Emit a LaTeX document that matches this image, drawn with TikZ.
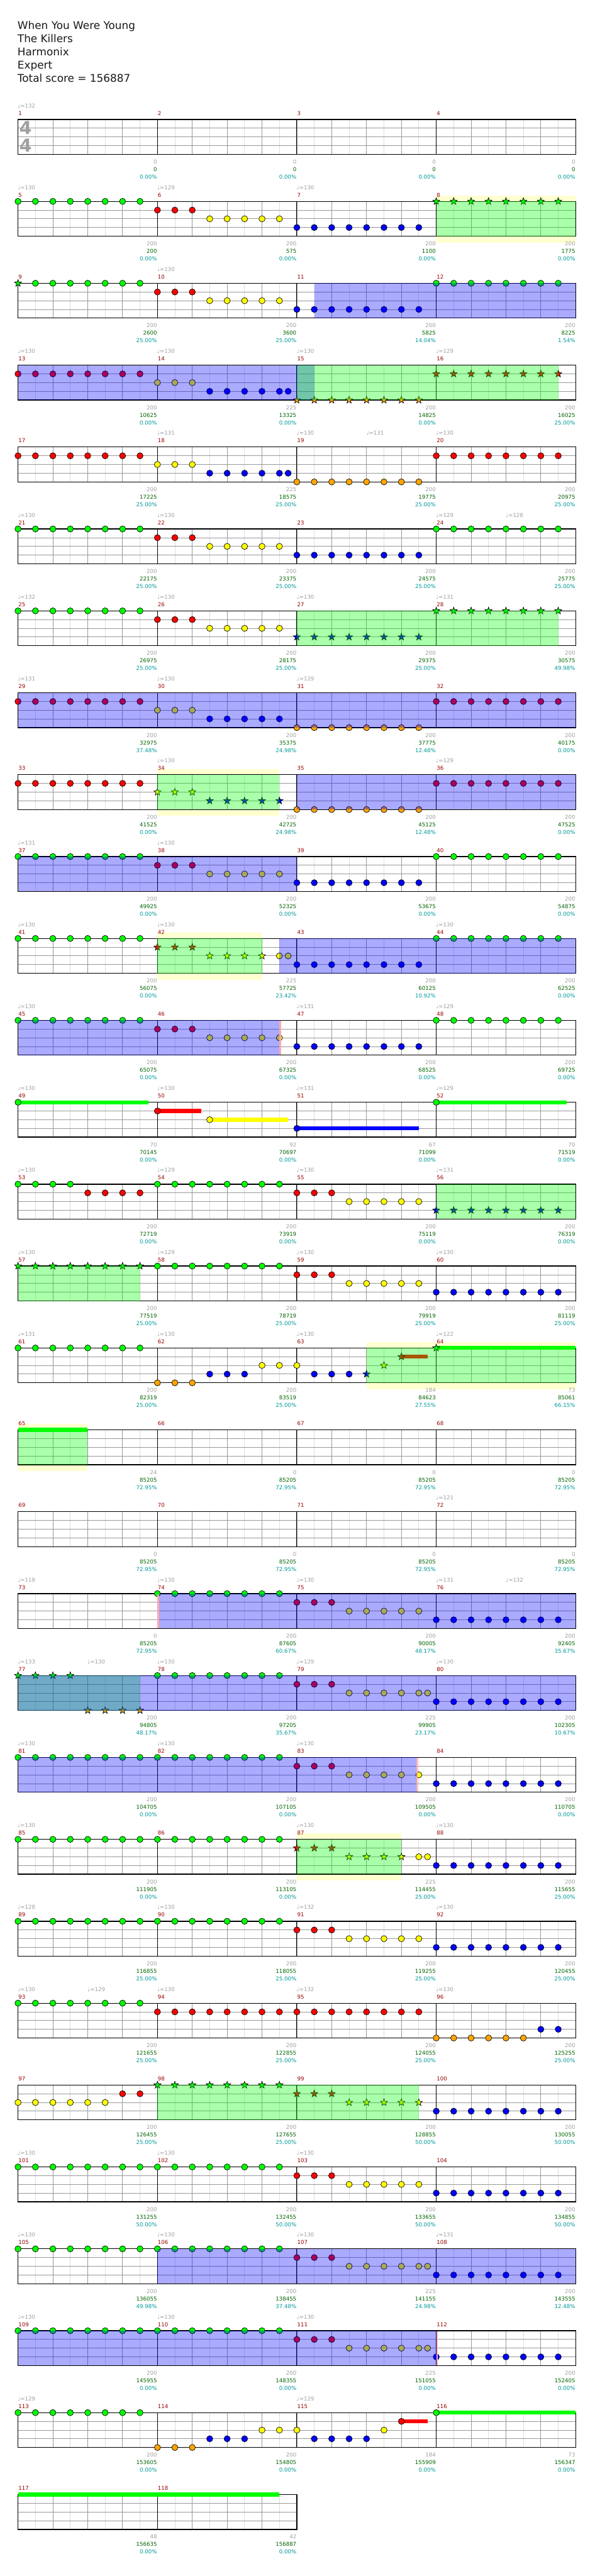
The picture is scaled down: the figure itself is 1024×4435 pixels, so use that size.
\documentclass[tikz,border=0pt]{standalone}
\usepackage{fontspec}
\setmainfont{DejaVu Sans}

\definecolor{gemgreen}{RGB}{0,255,0}
\definecolor{gemred}{RGB}{255,0,0}
\definecolor{gemyellow}{RGB}{255,255,0}
\definecolor{gemblue}{RGB}{0,0,255}
\definecolor{gemorange}{RGB}{255,165,0}
\definecolor{measurered}{RGB}{153,0,0}
\definecolor{textgray}{RGB}{160,160,160}
\definecolor{scoregreen}{RGB}{0,100,0}
\definecolor{scorecyan}{RGB}{0,153,153}
\definecolor{unisonyellow}{RGB}{255,255,208}
\definecolor{lightline}{RGB}{221,221,221}
\definecolor{beatline}{RGB}{153,153,153}
\definecolor{markpink}{RGB}{255,170,170}

\tikzset{
  every node/.style={inner sep=0pt,font=\fontsize{7}{8}\selectfont},
  titleline/.style={anchor=base west,text=black!90,font=\fontsize{13.7}{16}\selectfont},
  chartrow/.style={shift={(0,205.7+141*#1)}},
  halfbeat/.style={draw=lightline,line width=0.7pt},
  beat/.style={draw=beatline,line width=0.7pt},
  barline/.style={draw=black,line width=0.75pt},
  staffframe/.style={draw=black,line width=1pt},
  gemline/.style={draw=black,line width=0.55pt},
  measnum/.style={anchor=base west,text=measurered},
  tempomark/.style={anchor=base west,text=textgray},
  lblpts/.style={anchor=base east,text=textgray},
  lbltotal/.style={anchor=base east,text=scoregreen},
  lblpct/.style={anchor=base east,text=scorecyan},
  timesig/.style={text=textgray,font=\bfseries\fontsize{23}{23}\selectfont}
}

% one staff of #1 measures, 8 eighths each
\newcommand{\staff}[1]{%
  \pgfmathtruncatemacro{\nlines}{8*#1}%
  \fill[white] (31,0) rectangle ({31+240*#1},60);
  \foreach \k in {1,3,...,\nlines}{\draw[halfbeat] ({31+30*\k},0) -- ({31+30*\k},60);}
  \foreach \k in {2,4,...,\nlines}{\draw[beat] ({31+30*\k},0) -- ({31+30*\k},60);}
  \foreach \yy in {15,30,45}{\draw[beat] (31,\yy) -- ({31+240*#1},\yy);}
  \foreach \k in {1,...,#1}{\draw[barline] ({31+240*\k},0) -- ({31+240*\k},60);}
  \draw[staffframe] (31,0) rectangle ({31+240*#1},60);
}
% gems: position in eighths, lane, colour
\newcommand{\gem}[3]{\filldraw[gemline,fill=#3] ({31+30*#1},{15*#2}) circle[radius=5.3];}
\newcommand{\gems}[4]{\foreach \p in {#1,...,#2}{\gem{\p}{#3}{#4}}}
\newcommand{\sgem}[3]{\filldraw[gemline,fill=#3,shift={({31+30*#1},{15*#2})}]
  (270:6.4) -- (234:2.6) -- (198:6.4) -- (162:2.6) -- (126:6.4) -- (90:2.6)
  -- (54:6.4) -- (18:2.6) -- (342:6.4) -- (306:2.6) -- cycle;}
\newcommand{\sgems}[4]{\foreach \p in {#1,...,#2}{\sgem{\p}{#3}{#4}}}
\newcommand{\sust}[4]{\fill[#4] ({31+30*#1},{15*#3-3.4}) rectangle ({31+30*#2},{15*#3+3.4});}
% overdrive zones
\newcommand{\odzone}[3]{\fill[#3,opacity=0.333] ({31+30*#1},0) rectangle ({31+30*#2},60);}
\newcommand{\unisonzone}[2]{\fill[unisonyellow] ({31+30*#1},-10) rectangle ({31+30*#2},71);}
\newcommand{\activmark}[1]{\fill[markpink] ({31+30*#1},0.6) rectangle ({33.5+30*#1},59.4);}
\newcount\tempono
\newcommand{\tempo}[2]{\global\advance\tempono by 1
  \node[tempomark] (tempo\the\tempono) at ({30.5+30*#1},-20.5) {♩=#2};}
\newcommand{\meas}[5]{%
  \node[measnum] (m#2) at ({31.5+240*#1},-7.5) {#2};
  \node[lblpts] (pts#2) at ({270.5+240*#1},76.3) {#3};
  \node[lbltotal] (total#2) at ({270.5+240*#1},89.3) {#4};
  \node[lblpct] (pct#2) at ({270.5+240*#1},102.3) {#5\%};}

\begin{document}
\begin{tikzpicture}[x=0.75pt,y=-0.75pt]
  \useasboundingbox (0,0) rectangle (1024,4435);
  \fill[white] (0,0) rectangle (1024,4435);
  \node[titleline] (song) at (30,50) {When You Were Young};
  \node[titleline] (artist) at (30,72.8) {The Killers};
  \node[titleline] (charter) at (30,95.6) {Harmonix};
  \node[titleline] (level) at (30,118.4) {Expert};
  \node[titleline] (score) at (30,141.2) {Total score = 156887};

  \begin{scope}[chartrow=0]
    \staff{4}
    \node[timesig] (sigup) at (44,14.5) {4};
    \node[timesig] (sigdown) at (44,44.5) {4};
    \tempo{0}{132}
    \meas{0}{1}{0}{0}{0.00}\meas{1}{2}{0}{0}{0.00}\meas{2}{3}{0}{0}{0.00}\meas{3}{4}{0}{0}{0.00}
  \end{scope}

  \begin{scope}[chartrow=1]
    \unisonzone{24}{32}
    \staff{4}
    \gems{0}{7}{0}{gemgreen}\gems{8}{10}{1}{gemred}\gems{11}{15}{2}{gemyellow}
    \gems{16}{23}{3}{gemblue}\sgems{24}{31}{0}{gemgreen}
    \odzone{24}{32}{gemgreen}
    \tempo{0}{130}\tempo{8}{129}\tempo{16}{130}
    \meas{0}{5}{200}{200}{0.00}\meas{1}{6}{200}{575}{0.00}\meas{2}{7}{200}{1100}{0.00}\meas{3}{8}{200}{1775}{0.00}
  \end{scope}

  \begin{scope}[chartrow=2]
    \staff{4}
    \sgem{0}{0}{gemgreen}\gems{1}{7}{0}{gemgreen}\gems{8}{10}{1}{gemred}\gems{11}{15}{2}{gemyellow}
    \gems{16}{23}{3}{gemblue}\gems{24}{31}{0}{gemgreen}
    \odzone{17}{32}{gemblue}
    \tempo{8}{130}
    \meas{0}{9}{200}{2600}{25.00}\meas{1}{10}{200}{3600}{25.00}\meas{2}{11}{200}{5825}{14.04}\meas{3}{12}{200}{8225}{1.54}
  \end{scope}

  \begin{scope}[chartrow=3]
    \staff{4}
    \gems{0}{7}{1}{gemred}\gems{8}{10}{2}{gemyellow}\gems{11}{15}{3}{gemblue}\gem{15.5}{3}{gemblue}
    \sgems{16}{23}{4}{gemorange}\sgems{24}{31}{1}{gemred}
    \odzone{0}{17}{gemblue}\odzone{16}{31}{gemgreen}
    \tempo{0}{130}\tempo{8}{130}\tempo{16}{130}\tempo{24}{129}
    \meas{0}{13}{200}{10625}{0.00}\meas{1}{14}{225}{13325}{0.00}\meas{2}{15}{200}{14825}{0.00}\meas{3}{16}{200}{16025}{25.00}
  \end{scope}

  \begin{scope}[chartrow=4]
    \staff{4}
    \gems{0}{7}{1}{gemred}\gems{8}{10}{2}{gemyellow}\gems{11}{15}{3}{gemblue}\gem{15.5}{3}{gemblue}
    \gems{16}{23}{4}{gemorange}\gems{24}{31}{1}{gemred}
    \tempo{8}{131}\tempo{16}{130}\tempo{20}{131}\tempo{24}{130}
    \meas{0}{17}{200}{17225}{25.00}\meas{1}{18}{225}{18575}{25.00}\meas{2}{19}{200}{19775}{25.00}\meas{3}{20}{200}{20975}{25.00}
  \end{scope}

  \begin{scope}[chartrow=5]
    \staff{4}
    \gems{0}{7}{0}{gemgreen}\gems{8}{10}{1}{gemred}\gems{11}{15}{2}{gemyellow}
    \gems{16}{23}{3}{gemblue}\gems{24}{31}{0}{gemgreen}
    \tempo{0}{130}\tempo{8}{130}\tempo{24}{129}\tempo{28}{128}
    \meas{0}{21}{200}{22175}{25.00}\meas{1}{22}{200}{23375}{25.00}\meas{2}{23}{200}{24575}{25.00}\meas{3}{24}{200}{25775}{25.00}
  \end{scope}

  \begin{scope}[chartrow=6]
    \staff{4}
    \gems{0}{7}{0}{gemgreen}\gems{8}{10}{1}{gemred}\gems{11}{15}{2}{gemyellow}
    \sgems{16}{23}{3}{gemblue}\sgems{24}{31}{0}{gemgreen}
    \odzone{16}{31}{gemgreen}
    \tempo{0}{132}\tempo{8}{130}\tempo{16}{130}\tempo{24}{131}
    \meas{0}{25}{200}{26975}{25.00}\meas{1}{26}{200}{28175}{25.00}\meas{2}{27}{200}{29375}{25.00}\meas{3}{28}{200}{30575}{49.98}
  \end{scope}

  \begin{scope}[chartrow=7]
    \staff{4}
    \gems{0}{7}{1}{gemred}\gems{8}{10}{2}{gemyellow}\gems{11}{15}{3}{gemblue}
    \gems{16}{23}{4}{gemorange}\gems{24}{31}{1}{gemred}
    \odzone{0}{32}{gemblue}
    \tempo{0}{131}\tempo{8}{130}\tempo{16}{129}
    \meas{0}{29}{200}{32975}{37.48}\meas{1}{30}{200}{35375}{24.98}\meas{2}{31}{200}{37775}{12.48}\meas{3}{32}{200}{40175}{0.00}
  \end{scope}

  \begin{scope}[chartrow=8]
    \unisonzone{8}{15}
    \staff{4}
    \gems{0}{7}{1}{gemred}\sgems{8}{10}{2}{gemyellow}\sgems{11}{15}{3}{gemblue}
    \gems{16}{23}{4}{gemorange}\gems{24}{31}{1}{gemred}
    \odzone{8}{15}{gemgreen}\odzone{16}{32}{gemblue}
    \tempo{8}{130}\tempo{24}{129}
    \meas{0}{33}{200}{41525}{0.00}\meas{1}{34}{200}{42725}{24.98}\meas{2}{35}{200}{45125}{12.48}\meas{3}{36}{200}{47525}{0.00}
  \end{scope}

  \begin{scope}[chartrow=9]
    \staff{4}
    \gems{0}{7}{0}{gemgreen}\gems{8}{10}{1}{gemred}\gems{11}{15}{2}{gemyellow}
    \gems{16}{23}{3}{gemblue}\gems{24}{31}{0}{gemgreen}
    \odzone{0}{16}{gemblue}
    \tempo{0}{131}\tempo{8}{130}
    \meas{0}{37}{200}{49925}{0.00}\meas{1}{38}{200}{52325}{0.00}\meas{2}{39}{200}{53675}{0.00}\meas{3}{40}{200}{54875}{0.00}
  \end{scope}

  \begin{scope}[chartrow=10]
    \unisonzone{8}{14}
    \staff{4}
    \gems{0}{7}{0}{gemgreen}\sgems{8}{10}{1}{gemred}\sgems{11}{14}{2}{gemyellow}
    \gem{15}{2}{gemyellow}\gem{15.5}{2}{gemyellow}
    \gems{16}{23}{3}{gemblue}\gems{24}{31}{0}{gemgreen}
    \odzone{8}{14}{gemgreen}\odzone{15}{32}{gemblue}
    \tempo{0}{130}\tempo{8}{130}\tempo{24}{130}
    \meas{0}{41}{200}{56075}{0.00}\meas{1}{42}{225}{57725}{23.42}\meas{2}{43}{200}{60125}{10.92}\meas{3}{44}{200}{62525}{0.00}
  \end{scope}

  \begin{scope}[chartrow=11]
    \staff{4}
    \gems{0}{7}{0}{gemgreen}\gems{8}{10}{1}{gemred}\gems{11}{15}{2}{gemyellow}
    \gems{16}{23}{3}{gemblue}\gems{24}{31}{0}{gemgreen}
    \odzone{0}{15}{gemblue}\activmark{15}
    \tempo{0}{130}\tempo{16}{131}\tempo{24}{129}
    \meas{0}{45}{200}{65075}{0.00}\meas{1}{46}{200}{67325}{0.00}\meas{2}{47}{200}{68525}{0.00}\meas{3}{48}{200}{69725}{0.00}
  \end{scope}

  \begin{scope}[chartrow=12]
    \staff{4}
    \sust{0}{7.5}{0}{gemgreen}\gem{0}{0}{gemgreen}
    \sust{8}{10.5}{1}{gemred}\gem{8}{1}{gemred}
    \sust{11}{15.5}{2}{gemyellow}\gem{11}{2}{gemyellow}
    \sust{16}{23}{3}{gemblue}\gem{16}{3}{gemblue}
    \sust{24}{31.5}{0}{gemgreen}\gem{24}{0}{gemgreen}
    \tempo{0}{130}\tempo{8}{130}\tempo{16}{131}\tempo{24}{129}
    \meas{0}{49}{70}{70145}{0.00}\meas{1}{50}{92}{70697}{0.00}\meas{2}{51}{67}{71099}{0.00}\meas{3}{52}{70}{71519}{0.00}
  \end{scope}

  \begin{scope}[chartrow=13]
    \staff{4}
    \gems{0}{3}{0}{gemgreen}\gems{4}{7}{1}{gemred}\gems{8}{15}{0}{gemgreen}
    \gems{16}{18}{1}{gemred}\gems{19}{23}{2}{gemyellow}\sgems{24}{31}{3}{gemblue}
    \odzone{24}{32}{gemgreen}
    \tempo{0}{130}\tempo{8}{129}\tempo{16}{130}\tempo{24}{131}
    \meas{0}{53}{200}{72719}{0.00}\meas{1}{54}{200}{73919}{0.00}\meas{2}{55}{200}{75119}{0.00}\meas{3}{56}{200}{76319}{0.00}
  \end{scope}

  \begin{scope}[chartrow=14]
    \staff{4}
    \sgems{0}{7}{0}{gemgreen}\gems{8}{15}{0}{gemgreen}
    \gems{16}{18}{1}{gemred}\gems{19}{23}{2}{gemyellow}\gems{24}{31}{3}{gemblue}
    \odzone{0}{7}{gemgreen}
    \tempo{0}{130}\tempo{8}{129}\tempo{16}{130}\tempo{24}{130}
    \meas{0}{57}{200}{77519}{25.00}\meas{1}{58}{200}{78719}{25.00}\meas{2}{59}{200}{79919}{25.00}\meas{3}{60}{200}{81119}{25.00}
  \end{scope}

  \begin{scope}[chartrow=15]
    \unisonzone{20}{32}
    \staff{4}
    \gems{0}{7}{0}{gemgreen}\gems{8}{10}{4}{gemorange}\gems{11}{13}{3}{gemblue}
    \gems{14}{16}{2}{gemyellow}\gems{17}{19}{3}{gemblue}
    \sgem{20}{3}{gemblue}\sgem{21}{2}{gemyellow}
    \sust{22}{23.5}{1}{gemred}\sgem{22}{1}{gemred}
    \sust{24}{32}{0}{gemgreen}\sgem{24}{0}{gemgreen}
    \odzone{20}{32}{gemgreen}
    \tempo{0}{131}\tempo{8}{130}\tempo{16}{130}\tempo{24}{122}
    \meas{0}{61}{200}{82319}{25.00}\meas{1}{62}{200}{83519}{25.00}\meas{2}{63}{184}{84623}{27.55}\meas{3}{64}{73}{85061}{66.15}
  \end{scope}

  \begin{scope}[chartrow=16]
    \unisonzone{0}{4}
    \staff{4}
    \sust{0}{4}{0}{gemgreen}
    \odzone{0}{4}{gemgreen}
    \meas{0}{65}{24}{85205}{72.95}\meas{1}{66}{0}{85205}{72.95}\meas{2}{67}{0}{85205}{72.95}\meas{3}{68}{0}{85205}{72.95}
  \end{scope}

  \begin{scope}[chartrow=17]
    \staff{4}
    \tempo{24}{121}
    \meas{0}{69}{0}{85205}{72.95}\meas{1}{70}{0}{85205}{72.95}\meas{2}{71}{0}{85205}{72.95}\meas{3}{72}{0}{85205}{72.95}
  \end{scope}

  \begin{scope}[chartrow=18]
    \staff{4}
    \gems{8}{15}{0}{gemgreen}\gems{16}{18}{1}{gemred}\gems{19}{23}{2}{gemyellow}\gems{24}{31}{3}{gemblue}
    \odzone{8}{32}{gemblue}\activmark{8}
    \tempo{0}{118}\tempo{8}{130}\tempo{16}{130}\tempo{24}{131}\tempo{28}{132}
    \meas{0}{73}{0}{85205}{72.95}\meas{1}{74}{200}{87605}{60.67}\meas{2}{75}{200}{90005}{48.17}\meas{3}{76}{200}{92405}{35.67}
  \end{scope}

  \begin{scope}[chartrow=19]
    \staff{4}
    \sgems{0}{3}{0}{gemgreen}\sgems{4}{7}{4}{gemorange}\gems{8}{15}{0}{gemgreen}
    \gems{16}{18}{1}{gemred}\gems{19}{23}{2}{gemyellow}\gem{23.5}{2}{gemyellow}\gems{24}{31}{3}{gemblue}
    \odzone{0}{7}{gemgreen}\odzone{0}{32}{gemblue}
    \tempo{0}{133}\tempo{4}{130}\tempo{8}{130}\tempo{16}{129}\tempo{24}{130}
    \meas{0}{77}{200}{94805}{48.17}\meas{1}{78}{200}{97205}{35.67}\meas{2}{79}{225}{99905}{23.17}\meas{3}{80}{200}{102305}{10.67}
  \end{scope}

  \begin{scope}[chartrow=20]
    \staff{4}
    \gems{0}{15}{0}{gemgreen}\gems{16}{18}{1}{gemred}\gems{19}{23}{2}{gemyellow}\gems{24}{31}{3}{gemblue}
    \odzone{0}{22.85}{gemblue}\activmark{22.85}
    \tempo{0}{130}\tempo{8}{130}\tempo{16}{130}
    \meas{0}{81}{200}{104705}{0.00}\meas{1}{82}{200}{107105}{0.00}\meas{2}{83}{200}{109505}{0.00}\meas{3}{84}{200}{110705}{0.00}
  \end{scope}

  \begin{scope}[chartrow=21]
    \unisonzone{16}{22}
    \staff{4}
    \gems{0}{15}{0}{gemgreen}\sgems{16}{18}{1}{gemred}\sgems{19}{22}{2}{gemyellow}
    \gem{23}{2}{gemyellow}\gem{23.5}{2}{gemyellow}\gems{24}{31}{3}{gemblue}
    \odzone{16}{22}{gemgreen}
    \tempo{0}{130}\tempo{16}{130}\tempo{24}{130}
    \meas{0}{85}{200}{111905}{0.00}\meas{1}{86}{200}{113105}{0.00}\meas{2}{87}{225}{114455}{25.00}\meas{3}{88}{200}{115655}{25.00}
  \end{scope}

  \begin{scope}[chartrow=22]
    \staff{4}
    \gems{0}{15}{0}{gemgreen}\gems{16}{18}{1}{gemred}\gems{19}{23}{2}{gemyellow}\gems{24}{31}{3}{gemblue}
    \tempo{0}{128}\tempo{8}{130}\tempo{16}{132}\tempo{24}{130}
    \meas{0}{89}{200}{116855}{25.00}\meas{1}{90}{200}{118055}{25.00}\meas{2}{91}{200}{119255}{25.00}\meas{3}{92}{200}{120455}{25.00}
  \end{scope}

  \begin{scope}[chartrow=23]
    \staff{4}
    \gems{0}{7}{0}{gemgreen}\gems{8}{23}{1}{gemred}\gems{24}{29}{4}{gemorange}\gems{30}{31}{3}{gemblue}
    \tempo{0}{130}\tempo{4}{129}\tempo{8}{130}\tempo{16}{132}\tempo{24}{130}
    \meas{0}{93}{200}{121655}{25.00}\meas{1}{94}{200}{122855}{25.00}\meas{2}{95}{200}{124055}{25.00}\meas{3}{96}{200}{125255}{25.00}
  \end{scope}

  \begin{scope}[chartrow=24]
    \staff{4}
    \gems{0}{5}{2}{gemyellow}\gems{6}{7}{1}{gemred}\sgems{8}{15}{0}{gemgreen}
    \sgems{16}{18}{1}{gemred}\sgems{19}{23}{2}{gemyellow}\gems{24}{31}{3}{gemblue}
    \odzone{8}{23}{gemgreen}
    \meas{0}{97}{200}{126455}{25.00}\meas{1}{98}{200}{127655}{25.00}\meas{2}{99}{200}{128855}{50.00}\meas{3}{100}{200}{130055}{50.00}
  \end{scope}

  \begin{scope}[chartrow=25]
    \staff{4}
    \gems{0}{15}{0}{gemgreen}\gems{16}{18}{1}{gemred}\gems{19}{23}{2}{gemyellow}\gems{24}{31}{3}{gemblue}
    \tempo{0}{130}\tempo{8}{130}\tempo{16}{130}
    \meas{0}{101}{200}{131255}{50.00}\meas{1}{102}{200}{132455}{50.00}\meas{2}{103}{200}{133655}{50.00}\meas{3}{104}{200}{134855}{50.00}
  \end{scope}

  \begin{scope}[chartrow=26]
    \staff{4}
    \gems{0}{15}{0}{gemgreen}\gems{16}{18}{1}{gemred}\gems{19}{23}{2}{gemyellow}\gem{23.5}{2}{gemyellow}\gems{24}{31}{3}{gemblue}
    \odzone{8}{32}{gemblue}
    \tempo{0}{130}\tempo{8}{130}\tempo{16}{130}\tempo{24}{131}
    \meas{0}{105}{200}{136055}{49.98}\meas{1}{106}{200}{138455}{37.48}\meas{2}{107}{225}{141155}{24.98}\meas{3}{108}{200}{143555}{12.48}
  \end{scope}

  \begin{scope}[chartrow=27]
    \staff{4}
    \gems{0}{15}{0}{gemgreen}\gems{16}{18}{1}{gemred}\gems{19}{23}{2}{gemyellow}\gem{23.5}{2}{gemyellow}\gems{24}{31}{3}{gemblue}
    \odzone{0}{24}{gemblue}\activmark{24}
    \tempo{0}{130}\tempo{8}{130}\tempo{16}{130}
    \meas{0}{109}{200}{145955}{0.00}\meas{1}{110}{200}{148355}{0.00}\meas{2}{111}{225}{151055}{0.00}\meas{3}{112}{200}{152405}{0.00}
  \end{scope}

  \begin{scope}[chartrow=28]
    \staff{4}
    \gems{0}{7}{0}{gemgreen}\gems{8}{10}{4}{gemorange}\gems{11}{13}{3}{gemblue}
    \gems{14}{16}{2}{gemyellow}\gems{17}{20}{3}{gemblue}\gem{21}{2}{gemyellow}
    \sust{22}{23.5}{1}{gemred}\gem{22}{1}{gemred}
    \sust{24}{32}{0}{gemgreen}\gem{24}{0}{gemgreen}
    \tempo{0}{129}\tempo{16}{129}
    \meas{0}{113}{200}{153605}{0.00}\meas{1}{114}{200}{154805}{0.00}\meas{2}{115}{184}{155909}{0.00}\meas{3}{116}{73}{156347}{0.00}
  \end{scope}

  \begin{scope}[chartrow=29]
    \staff{2}
    \sust{0}{15}{0}{gemgreen}
    \meas{0}{117}{48}{156635}{0.00}\meas{1}{118}{42}{156887}{0.00}
  \end{scope}
\end{tikzpicture}
\end{document}
